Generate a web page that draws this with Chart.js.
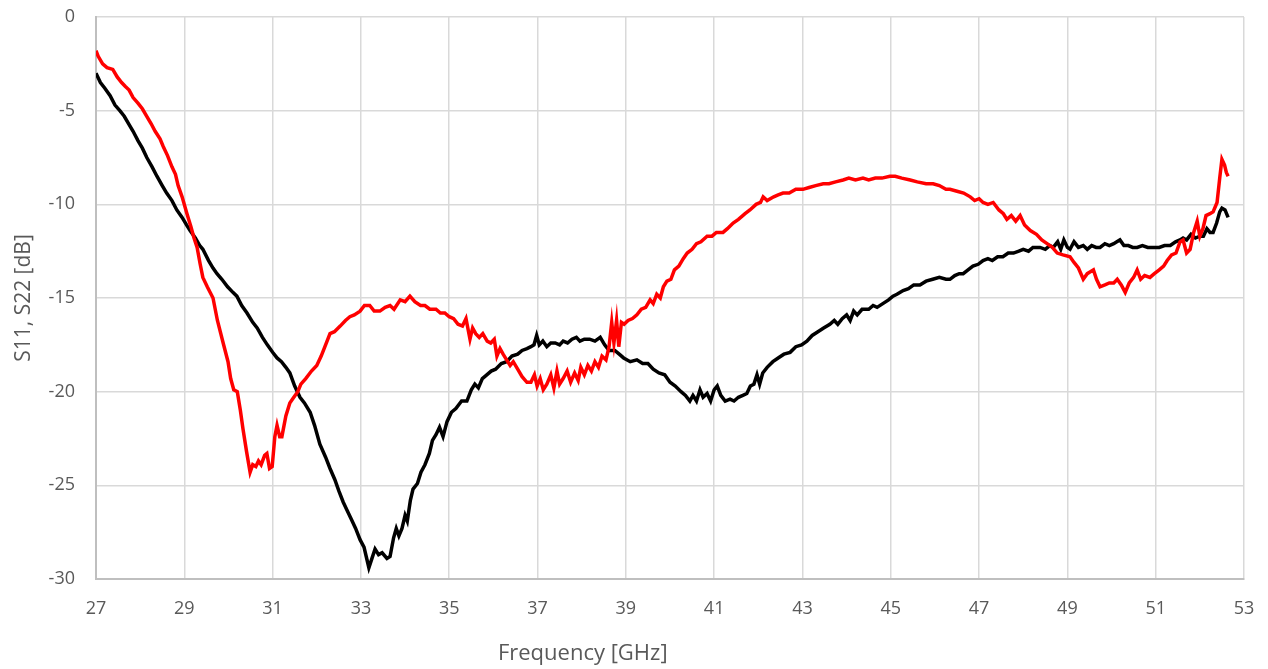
<!DOCTYPE html>
<html>
<head>
<meta charset="utf-8">
<script src="https://cdn.jsdelivr.net/npm/chart.js@4/dist/chart.umd.min.js"></script>
<style>
  html, body { margin: 0; padding: 0; background: #ffffff; }
  #wrap { width: 1268px; height: 669px; position: relative; }
</style>
</head>
<body>
<div id="wrap"><canvas id="c"></canvas></div>
<script>
// ---- Data ----
const xTitle = "Frequency [GHz]";
const yTitle = "S11, S22 [dB]";
const xMin = 27, xMax = 53, xStep = 2;
const yMin = -30, yMax = 0, yStep = 5;

// Red trace (frequency in GHz, level in dB)
const redFreq = [
  27.00,27.05,27.15,27.25,27.38,27.48,27.58,27.66,27.75,27.84,27.95,28.05,28.15,28.25,28.34,28.45,28.52,28.62,28.72,28.80,
  28.86,28.95,29.06,29.15,29.22,29.29,29.36,29.42,29.52,29.65,29.75,29.88,29.99,30.05,30.12,30.20,30.27,30.33,30.41,30.49,
  30.55,30.62,30.68,30.74,30.82,30.87,30.93,30.99,31.05,31.10,31.16,31.21,31.30,31.39,31.48,31.57,31.64,31.75,31.88,32.00,
  32.10,32.20,32.30,32.40,32.53,32.65,32.75,32.85,32.98,33.08,33.20,33.30,33.43,33.55,33.66,33.75,33.89,34.00,34.11,34.22,
  34.35,34.45,34.56,34.70,34.80,34.90,35.00,35.10,35.20,35.30,35.38,35.47,35.53,35.60,35.68,35.76,35.86,35.94,36.02,36.08,
  36.15,36.22,36.30,36.38,36.45,36.55,36.65,36.76,36.85,36.93,36.99,37.06,37.13,37.21,37.30,37.37,37.44,37.50,37.58,37.67,
  37.75,37.84,37.92,37.98,38.06,38.14,38.22,38.30,38.38,38.46,38.55,38.62,38.68,38.73,38.79,38.84,38.90,38.96,39.05,39.15,
  39.25,39.35,39.45,39.55,39.62,39.70,39.78,39.85,39.93,40.02,40.10,40.20,40.30,40.39,40.50,40.60,40.70,40.84,40.95,41.05,
  41.20,41.30,41.43,41.55,41.70,41.81,41.95,42.05,42.11,42.20,42.35,42.45,42.56,42.70,42.85,43.01,43.15,43.30,43.47,43.60,
  43.75,43.92,44.05,44.20,44.37,44.50,44.65,44.80,44.98,45.10,45.25,45.44,45.60,45.80,45.96,46.10,46.25,46.34,46.50,46.65,
  46.80,46.90,47.00,47.09,47.20,47.32,47.45,47.55,47.63,47.73,47.83,47.93,48.03,48.16,48.30,48.42,48.54,48.66,48.77,48.90,
  49.06,49.15,49.25,49.36,49.45,49.52,49.59,49.66,49.74,49.85,49.95,50.05,50.13,50.22,50.31,50.40,50.50,50.58,50.66,50.75,
  50.87,50.97,51.08,51.18,51.26,51.36,51.46,51.55,51.62,51.70,51.78,51.86,51.94,52.00,52.07,52.14,52.23,52.30,52.39,52.45,
  52.50,52.56,52.60,52.64
];
const redDb = [
  -1.8,-2.1,-2.5,-2.7,-2.8,-3.2,-3.5,-3.7,-3.9,-4.3,-4.6,-4.9,-5.3,-5.7,-6.1,-6.5,-6.9,-7.4,-8.0,-8.4,
  -9.0,-9.6,-10.5,-11.2,-11.8,-12.3,-13.2,-13.9,-14.4,-15.0,-16.2,-17.4,-18.4,-19.3,-19.9,-20.0,-21.0,-22.0,-23.2,-24.3,
  -23.9,-24.0,-23.7,-23.9,-23.4,-23.3,-24.1,-24.0,-22.4,-21.8,-22.4,-22.4,-21.3,-20.6,-20.3,-20.0,-19.6,-19.3,-18.9,-18.6,
  -18.1,-17.5,-16.9,-16.8,-16.5,-16.2,-16.0,-15.9,-15.7,-15.4,-15.4,-15.7,-15.7,-15.5,-15.4,-15.6,-15.1,-15.2,-14.9,-15.2,
  -15.4,-15.4,-15.6,-15.6,-15.8,-15.8,-16.0,-16.1,-16.4,-16.5,-16.1,-17.2,-16.6,-16.9,-17.1,-16.9,-17.3,-17.4,-17.2,-18.1,
  -17.7,-18.0,-18.3,-18.6,-18.4,-18.8,-19.2,-19.5,-19.5,-19.1,-19.7,-19.3,-19.9,-19.6,-19.1,-19.8,-18.9,-19.6,-19.3,-18.9,
  -19.5,-19.0,-19.4,-18.7,-19.1,-18.6,-18.9,-18.4,-18.7,-18.1,-18.3,-17.6,-16.3,-17.4,-16.2,-17.6,-16.3,-16.4,-16.2,-16.1,
  -15.9,-15.6,-15.5,-15.1,-15.3,-14.8,-15.0,-14.4,-14.1,-14.0,-13.5,-13.3,-12.9,-12.6,-12.4,-12.1,-12.0,-11.7,-11.7,-11.5,
  -11.5,-11.3,-11.0,-10.8,-10.5,-10.3,-10.0,-9.9,-9.6,-9.8,-9.6,-9.5,-9.4,-9.4,-9.2,-9.2,-9.1,-9.0,-8.9,-8.9,
  -8.8,-8.7,-8.6,-8.7,-8.6,-8.7,-8.6,-8.6,-8.5,-8.5,-8.6,-8.7,-8.8,-8.9,-8.9,-9.0,-9.2,-9.2,-9.3,-9.4,
  -9.6,-9.8,-9.7,-9.9,-10.0,-9.9,-10.3,-10.5,-10.8,-10.6,-10.9,-10.6,-11.1,-11.4,-11.6,-11.9,-12.1,-12.3,-12.6,-12.7,
  -12.8,-13.1,-13.4,-14.0,-13.7,-13.6,-13.5,-14.0,-14.4,-14.3,-14.2,-14.2,-14.0,-14.3,-14.7,-14.2,-13.9,-13.5,-14.0,-13.8,
  -13.9,-13.7,-13.5,-13.3,-13.0,-12.7,-12.6,-12.0,-11.9,-12.6,-12.4,-11.5,-10.9,-11.7,-11.3,-10.6,-10.5,-10.4,-9.9,-8.6,
  -7.6,-7.9,-8.3,-8.5
];

// Black trace (frequency in GHz, level in dB)
const blackFreq = [
  27.00,27.10,27.20,27.32,27.43,27.54,27.64,27.74,27.84,27.95,28.05,28.15,28.27,28.38,28.50,28.60,28.72,28.83,28.95,29.05,
  29.13,29.25,29.35,29.42,29.55,29.65,29.74,29.85,29.98,30.10,30.19,30.30,30.42,30.55,30.65,30.77,30.88,31.00,31.10,31.20,
  31.30,31.39,31.50,31.62,31.72,31.85,31.95,32.07,32.20,32.30,32.41,32.50,32.60,32.68,32.78,32.88,32.98,33.07,33.12,33.18,
  33.25,33.32,33.40,33.48,33.59,33.66,33.74,33.80,33.86,33.93,34.00,34.05,34.12,34.18,34.28,34.36,34.45,34.55,34.62,34.70,
  34.78,34.86,34.95,35.05,35.15,35.28,35.40,35.50,35.58,35.66,35.75,35.85,35.95,36.05,36.18,36.30,36.42,36.55,36.65,36.76,
  36.85,36.92,36.98,37.04,37.12,37.21,37.30,37.40,37.50,37.58,37.68,37.78,37.88,37.96,38.06,38.18,38.30,38.42,38.52,38.62,
  38.75,38.85,38.95,39.10,39.25,39.38,39.50,39.62,39.75,39.88,40.00,40.12,40.25,40.35,40.45,40.52,40.60,40.68,40.75,40.84,
  40.92,41.00,41.07,41.15,41.25,41.36,41.45,41.55,41.65,41.74,41.82,41.90,41.97,42.03,42.10,42.20,42.33,42.45,42.58,42.72,
  42.85,42.98,43.10,43.22,43.35,43.48,43.62,43.72,43.80,43.90,44.00,44.08,44.16,44.24,44.35,44.50,44.60,44.69,44.82,44.95,
  45.05,45.14,45.28,45.40,45.52,45.66,45.80,45.95,46.10,46.25,46.34,46.45,46.55,46.64,46.75,46.86,46.98,47.09,47.20,47.30,
  47.42,47.54,47.66,47.78,47.90,48.00,48.12,48.22,48.38,48.50,48.60,48.68,48.78,48.85,48.92,49.00,49.06,49.15,49.25,49.36,
  49.45,49.55,49.65,49.74,49.85,49.95,50.05,50.12,50.19,50.28,50.38,50.48,50.58,50.70,50.82,50.94,51.08,51.20,51.33,51.45,
  51.55,51.62,51.70,51.80,51.90,52.00,52.08,52.16,52.23,52.30,52.38,52.45,52.50,52.57,52.64
];
const blackDb = [
  -3.0,-3.5,-3.8,-4.2,-4.7,-5.0,-5.3,-5.7,-6.1,-6.6,-7.0,-7.5,-8.0,-8.5,-9.0,-9.4,-9.8,-10.3,-10.7,-11.1,
  -11.4,-11.8,-12.2,-12.4,-13.0,-13.4,-13.7,-14.0,-14.4,-14.7,-14.9,-15.4,-15.8,-16.3,-16.6,-17.1,-17.5,-17.9,-18.2,-18.4,
  -18.7,-19.0,-19.7,-20.3,-20.6,-21.1,-21.8,-22.8,-23.5,-24.1,-24.7,-25.3,-25.9,-26.3,-26.8,-27.3,-27.9,-28.3,-28.8,-29.4,
  -28.9,-28.4,-28.7,-28.6,-28.9,-28.8,-27.8,-27.3,-27.7,-27.3,-26.6,-26.9,-25.8,-25.2,-24.9,-24.3,-23.9,-23.3,-22.6,-22.3,
  -21.9,-22.4,-21.6,-21.1,-20.9,-20.5,-20.5,-19.9,-19.6,-19.8,-19.3,-19.1,-18.9,-18.8,-18.5,-18.4,-18.1,-18.0,-17.8,-17.7,
  -17.6,-17.5,-17.0,-17.5,-17.3,-17.6,-17.4,-17.4,-17.5,-17.3,-17.4,-17.2,-17.1,-17.3,-17.2,-17.2,-17.3,-17.1,-17.5,-17.8,
  -17.8,-18.0,-18.2,-18.4,-18.3,-18.5,-18.5,-18.8,-19.0,-19.1,-19.5,-19.7,-20.0,-20.2,-20.5,-20.2,-20.5,-19.9,-20.3,-20.1,
  -20.5,-19.9,-19.7,-20.2,-20.5,-20.4,-20.5,-20.3,-20.2,-20.1,-19.7,-19.6,-19.1,-19.6,-19.0,-18.7,-18.4,-18.2,-18.0,-17.9,
  -17.6,-17.5,-17.3,-17.0,-16.8,-16.6,-16.4,-16.2,-16.4,-16.1,-15.9,-16.2,-15.7,-15.9,-15.6,-15.6,-15.4,-15.5,-15.3,-15.1,
  -14.9,-14.8,-14.6,-14.5,-14.3,-14.3,-14.1,-14.0,-13.9,-14.0,-14.0,-13.8,-13.7,-13.7,-13.5,-13.3,-13.2,-13.0,-12.9,-13.0,
  -12.8,-12.8,-12.6,-12.6,-12.5,-12.4,-12.5,-12.3,-12.3,-12.4,-12.2,-12.3,-12.0,-12.4,-11.9,-12.3,-12.4,-12.0,-12.3,-12.2,
  -12.4,-12.2,-12.3,-12.3,-12.1,-12.2,-12.1,-12.0,-11.9,-12.2,-12.2,-12.3,-12.3,-12.2,-12.3,-12.3,-12.3,-12.2,-12.2,-12.0,
  -11.9,-11.8,-11.9,-11.6,-11.8,-11.7,-11.7,-11.3,-11.5,-11.5,-11.0,-10.4,-10.2,-10.3,-10.7
];

// ---- Build and draw ----
const toPoints = (xs, ys) => xs.map((x, i) => ({ x: x, y: ys[i] }));
const FONT = "'Open Sans', 'Noto Sans', sans-serif";
const TEXT = '#595959';

const axisTitles = {
  id: 'axisTitles',
  afterDraw(chart) {
    const { ctx, chartArea } = chart;
    ctx.save();
    ctx.fillStyle = TEXT;
    ctx.font = "22px " + FONT;
    ctx.textAlign = 'center';
    ctx.textBaseline = 'middle';
    const xt = chartArea.left + (chartArea.right - chartArea.left) * 0.424;
    ctx.fillText(xTitle, xt, 654);
    ctx.translate(24, (chartArea.top + chartArea.bottom) / 2);
    ctx.rotate(-Math.PI / 2);
    ctx.font = "21px " + FONT;
    ctx.fillText(yTitle, 0, 0);
    ctx.restore();
  }
};

new Chart(document.getElementById('c'), {
  type: 'line',
  data: {
    datasets: [
      { label: 'S11', data: toPoints(redFreq, redDb), borderColor: '#ff0000', borderWidth: 3.5,
        pointRadius: 0, tension: 0, fill: false },
      { label: 'S22', data: toPoints(blackFreq, blackDb), borderColor: '#000000', borderWidth: 3.5,
        pointRadius: 0, tension: 0, fill: false }
    ]
  },
  options: {
    responsive: true,
    maintainAspectRatio: false,
    animation: false,
    layout: { padding: 0 },
    plugins: { legend: { display: false }, tooltip: { enabled: false } },
    scales: {
      x: {
        type: 'linear', min: xMin, max: xMax,
        afterFit(s) { s.height = 90; s.paddingRight = 24; s.paddingLeft = 0; },
        ticks: { stepSize: xStep, color: TEXT, font: { family: FONT, size: 18 }, padding: 19, maxRotation: 0 },
        grid: { color: '#d9d9d9', lineWidth: 1.5, drawTicks: false },
        border: { color: '#bfbfbf', width: 2 }
      },
      y: {
        type: 'linear', min: yMin, max: yMax,
        afterFit(s) { s.width = 96; s.paddingTop = 17; s.paddingBottom = 0; },
        ticks: { stepSize: yStep, color: TEXT, font: { family: FONT, size: 18 }, padding: 21 },
        grid: { color: '#d9d9d9', lineWidth: 1.5, drawTicks: false },
        border: { color: '#bfbfbf', width: 2 }
      }
    }
  },
  plugins: [axisTitles]
});
</script>
</body>
</html>
